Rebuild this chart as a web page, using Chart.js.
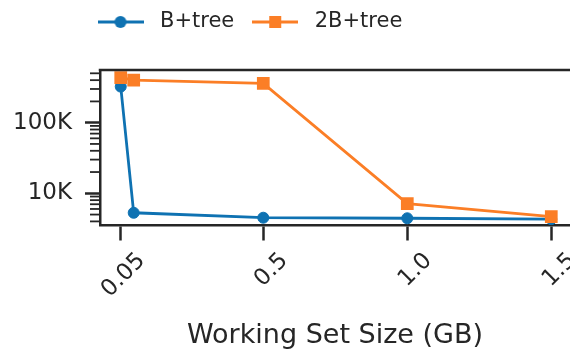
<!DOCTYPE html>
<html><head><meta charset="utf-8">
<script src="https://cdn.jsdelivr.net/npm/chart.js@4/dist/chart.umd.min.js"></script>
<style>html,body{margin:0;padding:0;background:#fff;overflow:hidden}#wrap{width:570px;height:349px}</style>
</head><body><div id="wrap"><canvas id="c" width="570" height="349"></canvas></div>
<script>
// ---- data ----
const workingSetGB = [0.005, 0.05, 0.5, 1.0, 1.5];
const bplusTree = [324000, 5300, 4510, 4430, 4300];
const twoBplusTree = [435000, 400000, 361000, 7150, 4670];
const seriesNames = ['B+tree', '2B+tree'];
const xTickValues = [0.005, 0.5, 1.0, 1.5];
const xTickLabels = ['0.05', '0.5', '1.0', '1.5'];
const yTickValues = [10000, 100000];
const yTickLabels = ['10K', '100K'];
const yDecades = [1000, 10000, 100000];

// ---- style ----
const FONT = 'DejaVu Sans';
const INK = '#262626';
const BLUE = '#0f72b2';
const ORANGE = '#fb7e26';
const LW = 2.8;
const Y_MIN = 3500, Y_MAX = 557000;
Chart.defaults.font.family = FONT;
Chart.defaults.color = INK;

const yMinor = [];
yDecades.forEach(d => { for (let m = 2; m <= 9; m++) { const v = m * d; if (v > Y_MIN && v < Y_MAX) yMinor.push(v); } });

function legendIcon(color, style) {
  const c = document.createElement('canvas'); c.width = 46; c.height = 16;
  const g = c.getContext('2d');
  g.strokeStyle = color; g.lineWidth = 3;
  g.beginPath(); g.moveTo(0, 8); g.lineTo(46, 8); g.stroke();
  g.fillStyle = color;
  if (style === 'circle') { g.beginPath(); g.arc(23, 8, 6, 0, Math.PI * 2); g.fill(); }
  else { g.fillRect(17, 2, 12, 12); }
  return c;
}
const icons = [legendIcon(BLUE, 'circle'), legendIcon(ORANGE, 'rect')];

const helper = {
  id: 'helper',
  afterLayout(chart) {
    const lg = chart.legend; const p = lg.options.labels.padding;
    lg.left = 91.5 - p; lg.top = 22 - 10.5 - p;
  },
  afterDraw(chart) {
    const {ctx, chartArea: a, scales: {y}} = chart;
    ctx.save(); ctx.strokeStyle = INK;
    ctx.lineWidth = 1.8;
    y.ticks.forEach(t => {
      if (!t.major) { const py = y.getPixelForValue(t.value); ctx.beginPath(); ctx.moveTo(a.left - 10, py); ctx.lineTo(a.left, py); ctx.stroke(); }
    });
    ctx.lineWidth = 2.5;
    ctx.beginPath(); ctx.moveTo(a.left - 1.25, a.top); ctx.lineTo(a.right, a.top); ctx.stroke();
    ctx.restore();
  }
};

new Chart(document.getElementById('c'), {
  type: 'line',
  data: {
    datasets: [
      { label: seriesNames[0], data: workingSetGB.map((x, i) => ({x, y: bplusTree[i]})),
        borderColor: BLUE, backgroundColor: BLUE, borderWidth: LW, tension: 0,
        pointStyle: 'circle', pointRadius: 5.5, pointBorderWidth: 1, pointHoverRadius: 5.5, order: 2 },
      { label: seriesNames[1], data: workingSetGB.map((x, i) => ({x, y: twoBplusTree[i]})),
        borderColor: ORANGE, backgroundColor: ORANGE, borderWidth: LW, tension: 0,
        pointStyle: 'rect', pointRadius: 9, pointBorderWidth: 0, pointHoverRadius: 9, order: 1 }
    ]
  },
  options: {
    responsive: false, animation: false, devicePixelRatio: 1,
    layout: { autoPadding: false, padding: { left: 0, right: 0, top: 27, bottom: 0 } },
    plugins: {
      tooltip: { enabled: false },
      legend: {
        position: 'top', align: 'start',
        labels: {
          usePointStyle: true, pointStyleWidth: 58, padding: 12,
          font: { size: 21 }, color: INK,
          generateLabels: chart => chart.data.datasets.map((d, i) => ({
            text: d.label, pointStyle: icons[i], fillStyle: d.borderColor, strokeStyle: d.borderColor,
            lineWidth: 0, datasetIndex: i, hidden: false, fontColor: INK
          }))
        }
      }
    },
    scales: {
      x: {
        type: 'linear', min: -0.067, max: 1.565,
        afterBuildTicks: s => { s.ticks = xTickValues.map(v => ({value: v})); },
        afterFit: s => { s.paddingLeft = 0; s.paddingRight = 0; if (s._margins) s._margins.right = 0; s.height = 123.5; },
        ticks: { autoSkip: false, minRotation: 45, maxRotation: 45, labelOffset: 21, padding: 7,
          font: { size: 23 }, color: INK,
          callback: v => xTickLabels[xTickValues.indexOf(v)] },
        grid: { drawOnChartArea: false, drawTicks: true, tickLength: 15, tickWidth: 2.5, tickColor: INK },
        border: { display: true, width: 2.5, color: INK },
        title: { display: true, text: 'Working Set Size (GB)', font: { size: 27 }, color: INK, padding: { top: 0, bottom: -3 } }
      },
      y: {
        type: 'logarithmic', min: Y_MIN, max: Y_MAX,
        afterBuildTicks: s => {
          s.ticks = yTickValues.map(v => ({value: v, major: true}))
            .concat(yMinor.map(v => ({value: v, major: false})))
            .sort((a, b) => a.value - b.value);
        },
        afterFit: s => { s.paddingTop = 0; s.paddingBottom = 0; s.width = 100; },
        ticks: { autoSkip: false, padding: 13, font: { size: 23 }, color: INK,
          callback: v => { const k = yTickValues.indexOf(v); return k >= 0 ? yTickLabels[k] : ''; } },
        grid: { drawOnChartArea: false, drawTicks: true, tickLength: 15,
          tickWidth: c => (c.tick && c.tick.major) ? 2.5 : 0,
          tickColor: c => (c.tick && c.tick.major) ? INK : 'rgba(0,0,0,0)' },
        border: { display: true, width: 2.5, color: INK }
      }
    }
  },
  plugins: [helper]
});
</script>
</body></html>
